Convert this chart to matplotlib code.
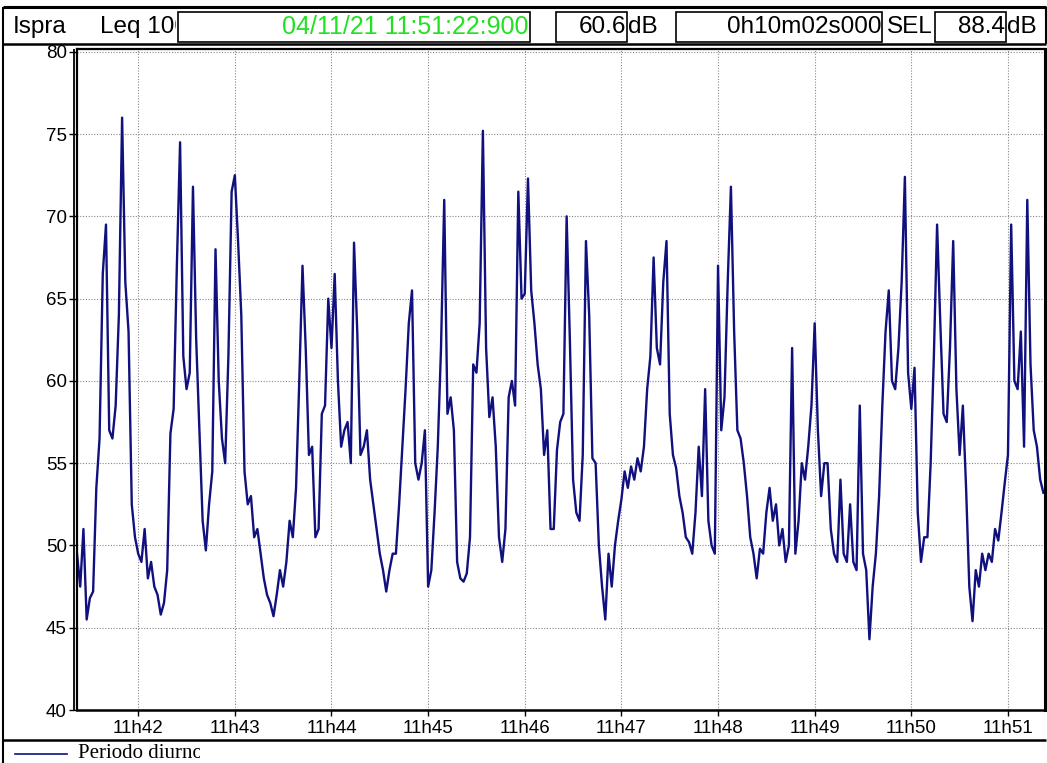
import numpy as np
import matplotlib
matplotlib.use("Agg")
import matplotlib.pyplot as plt
from matplotlib.patches import Rectangle
from matplotlib.transforms import Bbox, TransformedBbox

plt.rcParams['font.family'] = ['Liberation Sans', 'DejaVu Sans']

W, H = 1047, 763
SAMPLE_STEP = 2      # seconds between readings
START_SEC = 22       # first reading, seconds after 11:41:00
LINE_COLOR = '#10107e'

# Leq readings (dB), one list per wall-clock minute
leq_41 = [49.5, 47.5, 51.0, 45.5, 46.8, 47.2, 53.5, 56.5, 66.5, 69.5,
          57.0, 56.5, 58.5, 64.0, 76.0, 66.0, 63.0, 52.5, 50.5]
leq_42 = [49.5, 49.0, 51.0, 48.0, 49.0, 47.5, 47.0, 45.8, 46.5, 48.5,
          56.8, 58.3, 67.0, 74.5, 61.5, 59.5, 60.5, 71.8, 62.5, 57.0,
          51.5, 49.7, 52.5, 54.5, 68.0, 60.0, 56.5, 55.0, 61.5, 71.5]
leq_43 = [72.5, 68.5, 64.0, 54.5, 52.5, 53.0, 50.5, 51.0, 49.5, 48.0,
          47.0, 46.5, 45.7, 47.0, 48.5, 47.5, 49.0, 51.5, 50.5, 53.5,
          60.0, 67.0, 62.0, 55.5, 56.0, 50.5, 51.0, 58.0, 58.5, 65.0]
leq_44 = [62.0, 66.5, 60.0, 56.0, 57.0, 57.5, 55.0, 68.4, 63.0, 55.5,
          56.0, 57.0, 54.0, 52.5, 51.0, 49.5, 48.5, 47.2, 48.5, 49.5,
          49.5, 52.5, 56.0, 59.5, 63.5, 65.5, 55.0, 54.0, 55.0, 57.0]
leq_45 = [47.5, 48.5, 52.0, 56.0, 62.0, 71.0, 58.0, 59.0, 57.0, 49.0,
          48.0, 47.8, 48.3, 50.5, 61.0, 60.5, 63.5, 75.2, 62.0, 57.8,
          59.0, 56.0, 50.5, 49.0, 51.0, 59.0, 60.0, 58.5, 71.5, 65.0]
leq_46 = [65.3, 72.3, 65.5, 63.5, 61.0, 59.5, 55.5, 57.0, 51.0, 51.0,
          55.8, 57.5, 58.0, 70.0, 62.5, 54.0, 52.0, 51.5, 55.5, 68.5,
          64.0, 55.3, 55.0, 50.0, 47.5, 45.5, 49.5, 47.5, 50.0, 51.5]
leq_47 = [52.8, 54.5, 53.5, 54.8, 54.0, 55.3, 54.5, 56.0, 59.5, 61.5,
          67.5, 62.0, 61.0, 66.0, 68.5, 58.0, 55.5, 54.7, 53.0, 52.0,
          50.5, 50.2, 49.5, 52.0, 56.0, 53.0, 59.5, 51.5, 50.0, 49.5]
leq_48 = [67.0, 57.0, 59.0, 66.0, 71.8, 63.0, 57.0, 56.5, 55.0, 53.0,
          50.5, 49.5, 48.0, 49.8, 49.5, 52.0, 53.5, 51.5, 52.5, 50.0,
          51.0, 49.0, 50.0, 62.0, 49.5, 51.5, 55.0, 54.0, 56.0, 58.5]
leq_49 = [63.5, 57.0, 53.0, 55.0, 55.0, 51.0, 49.5, 49.0, 54.0, 49.5,
          49.0, 52.5, 49.0, 48.5, 58.5, 49.5, 48.5, 44.3, 47.5, 49.5,
          53.0, 58.5, 63.0, 65.5, 60.0, 59.5, 62.0, 66.0, 72.4, 60.5]
leq_50 = [58.3, 60.8, 52.0, 49.0, 50.5, 50.5, 55.0, 61.5, 69.5, 63.5,
          58.0, 57.5, 62.0, 68.5, 59.5, 55.5, 58.5, 53.5, 47.5, 45.4,
          48.5, 47.5, 49.5, 48.5, 49.5, 49.0, 51.0, 50.3, 52.0, 53.8]
leq_51 = [55.5, 69.5, 60.0, 59.5, 63.0, 56.0, 71.0, 61.0, 57.0, 56.0,
          54.0, 53.2]

minute_ticks = [60, 120, 180, 240, 300, 360, 420, 480, 540, 600]
minute_labels = ["11h42", "11h43", "11h44", "11h45", "11h46",
                 "11h47", "11h48", "11h49", "11h50", "11h51"]
level_ticks = [40, 45, 50, 55, 60, 65, 70, 75, 80]

station = "Ispra"
measure = "Leq 100ms"
timestamp = "04/11/21 11:51:22:900"
leq_total = "60.6"
duration = "0h10m02s000"
sel_total = "88.4"
legend_label = "Periodo diurno"

leq = np.concatenate([leq_41, leq_42, leq_43, leq_44, leq_45, leq_46,
                      leq_47, leq_48, leq_49, leq_50, leq_51])
secs = START_SEC + SAMPLE_STEP * np.arange(len(leq))

fig = plt.figure(figsize=(W / 100, H / 100), dpi=100)

# overlay in pixel coordinates for the header strip and legend strip
ov = fig.add_axes([0, 0, 1, 1])
ov.set_xlim(0, W)
ov.set_ylim(H, 0)
ov.axis('off')

def frame_line(xs, ys, lw=1.5):
    ov.plot(xs, ys, color='black', lw=lw, solid_capstyle='butt')

frame_line([3, 1046], [7, 7], lw=2.2)
frame_line([3, 3], [7, H], lw=1.5)
frame_line([1046, 1046], [7, 44], lw=1.5)
frame_line([3, 1046], [44, 44], lw=1.8)
frame_line([3, 1046], [740, 740], lw=1.8)
frame_line([73.5, 73.5], [49, 711], lw=1.3)

for x0, w in [(178, 352), (556, 71), (676, 206), (935, 71)]:
    ov.add_patch(Rectangle((x0, 12), w, 30, fill=False, ec='black', lw=1.2))

def clipped_text(x, y, s, x_clip, **kw):
    t = ov.text(x, y, s, **kw)
    t.set_clip_box(TransformedBbox(Bbox([[0, 0], [x_clip, H]]), ov.transData))
    t.set_clip_on(True)
    return t

HFS = 17.5
ov.text(13, 27, station, fontsize=HFS, va='center', ha='left')
clipped_text(100, 27, measure, 176, fontsize=HFS, va='center', ha='left')
ov.text(529, 27, timestamp, fontsize=18, va='center', ha='right', color='#22e022')
ov.text(626, 27, leq_total, fontsize=HFS, va='center', ha='right')
ov.text(628, 27, "dB", fontsize=HFS, va='center', ha='left')
ov.text(881, 27, duration, fontsize=HFS, va='center', ha='right')
ov.text(887, 27, "SEL", fontsize=HFS, va='center', ha='left')
ov.text(1005, 27, sel_total, fontsize=HFS, va='center', ha='right')
ov.text(1007, 27, "dB", fontsize=HFS, va='center', ha='left')

ov.plot([15, 67], [754, 754], color=LINE_COLOR, lw=1.2)
clipped_text(78, 753, legend_label, 200, fontsize=15, va='center', ha='left',
             family=['Liberation Serif', 'DejaVu Serif'])

# main time series
ax = fig.add_axes([77 / W, 1 - 710 / H, (1045 - 77) / W, (710 - 49) / H])
ax.plot(secs, leq, color=LINE_COLOR, lw=1.7)
ax.set_xlim(22, 623)
ax.set_ylim(40, 80.17)
ax.set_xticks(minute_ticks)
ax.set_xticklabels(minute_labels)
ax.set_yticks(level_ticks)
ax.tick_params(axis='y', direction='out', length=5.8, width=1, labelsize=13.5, pad=1.5)
ax.tick_params(axis='x', direction='out', length=4, width=1, labelsize=13.5, pad=3)
ax.grid(True, color='#888888', linestyle=(0, (1, 1.5)), linewidth=0.8)
for side, lw in [('left', 1.6), ('bottom', 1.8), ('top', 1.6), ('right', 2.2)]:
    ax.spines[side].set_linewidth(lw)

fig.savefig('out.png', dpi=100)
